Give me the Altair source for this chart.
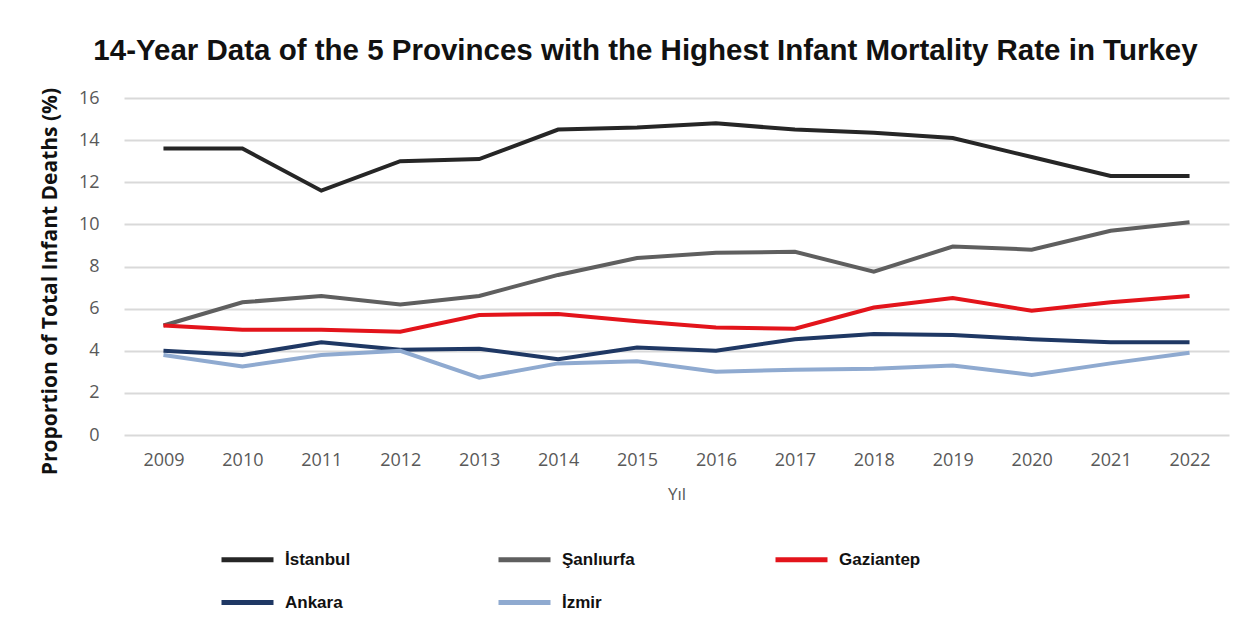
import altair as alt
import pandas as pd

years = [str(y) for y in range(2009, 2023)]
provinces = ["İstanbul", "Şanlıurfa", "Gaziantep", "Ankara", "İzmir"]
colors = ["#262626", "#5f5f5f", "#e3141b", "#1f3864", "#8faad0"]

istanbul = [13.6, 13.6, 11.6, 13.0, 13.1, 14.5, 14.6, 14.8, 14.5, 14.35, 14.1, 13.2, 12.3, 12.3]
sanliurfa = [5.2, 6.3, 6.6, 6.2, 6.6, 7.6, 8.4, 8.65, 8.7, 7.75, 8.95, 8.8, 9.7, 10.1]
gaziantep = [5.2, 5.0, 5.0, 4.9, 5.7, 5.75, 5.4, 5.1, 5.05, 6.05, 6.5, 5.9, 6.3, 6.6]
ankara = [4.0, 3.8, 4.4, 4.05, 4.1, 3.6, 4.15, 4.0, 4.55, 4.8, 4.75, 4.55, 4.4, 4.4]
izmir = [3.8, 3.25, 3.8, 4.0, 2.72, 3.4, 3.5, 3.0, 3.1, 3.15, 3.3, 2.85, 3.4, 3.9]

series = [istanbul, sanliurfa, gaziantep, ankara, izmir]
rows = []
for name, vals in zip(provinces, series):
    for y, v in zip(years, vals):
        rows.append({"Yıl": y, "Province": name, "Value": v})
df = pd.DataFrame(rows)

chart = alt.Chart(df).mark_line(strokeWidth=4).encode(
    x=alt.X("Yıl:O", scale=alt.Scale(type="point", padding=0.5),
            axis=alt.Axis(title="Yıl", labelAngle=0, domain=False, ticks=False,
                          labelPadding=16, titlePadding=17,
                          labelFontSize=18, labelColor="#595959", labelFont="Open Sans",
                          titleFontSize=17, titleFontWeight="normal", titleColor="#595959",
                          titleFont="Open Sans")),
    y=alt.Y("Value:Q", scale=alt.Scale(domain=[0, 16]),
            axis=alt.Axis(title="Proportion of Total Infant Deaths (%)", values=list(range(0, 17, 2)),
                          domain=False, ticks=False, labelPadding=25,
                          labelFontSize=18, labelColor="#595959", labelFont="Open Sans",
                          titleFontSize=21, titleFontWeight="bold", titleColor="#111111",
                          titleFont="Open Sans", titlePadding=18, titleY=183,
                          gridColor="#d9d9d9", gridWidth=2)),
    color=alt.Color("Province:N", sort=provinces,
                    scale=alt.Scale(domain=provinces, range=colors),
                    legend=alt.Legend(title=None, orient="none", legendX=95, legendY=433,
                                      direction="horizontal",
                                      columns=3, gridAlign="all", columnPadding=121, rowPadding=4,
                                      symbolType="stroke", symbolSize=2704, symbolStrokeWidth=5,
                                      labelFontSize=17, labelFontWeight="bold", labelColor="#111111",
                                      labelFont="Liberation Sans", labelOffset=9)),
).properties(
    width=1105, height=337,
    title=alt.TitleParams("14-Year Data of the 5 Provinces with the Highest Infant Mortality Rate in Turkey",
                          font="Liberation Sans", fontSize=29.5, fontWeight="bold", color="#111111",
                          anchor="middle", offset=21, dx=-31),
    padding={"left": 31, "top": 27, "right": 10, "bottom": 5},
).configure_view(stroke=None)

chart.save("out.html", embed_options={"renderer": "svg", "actions": False})
